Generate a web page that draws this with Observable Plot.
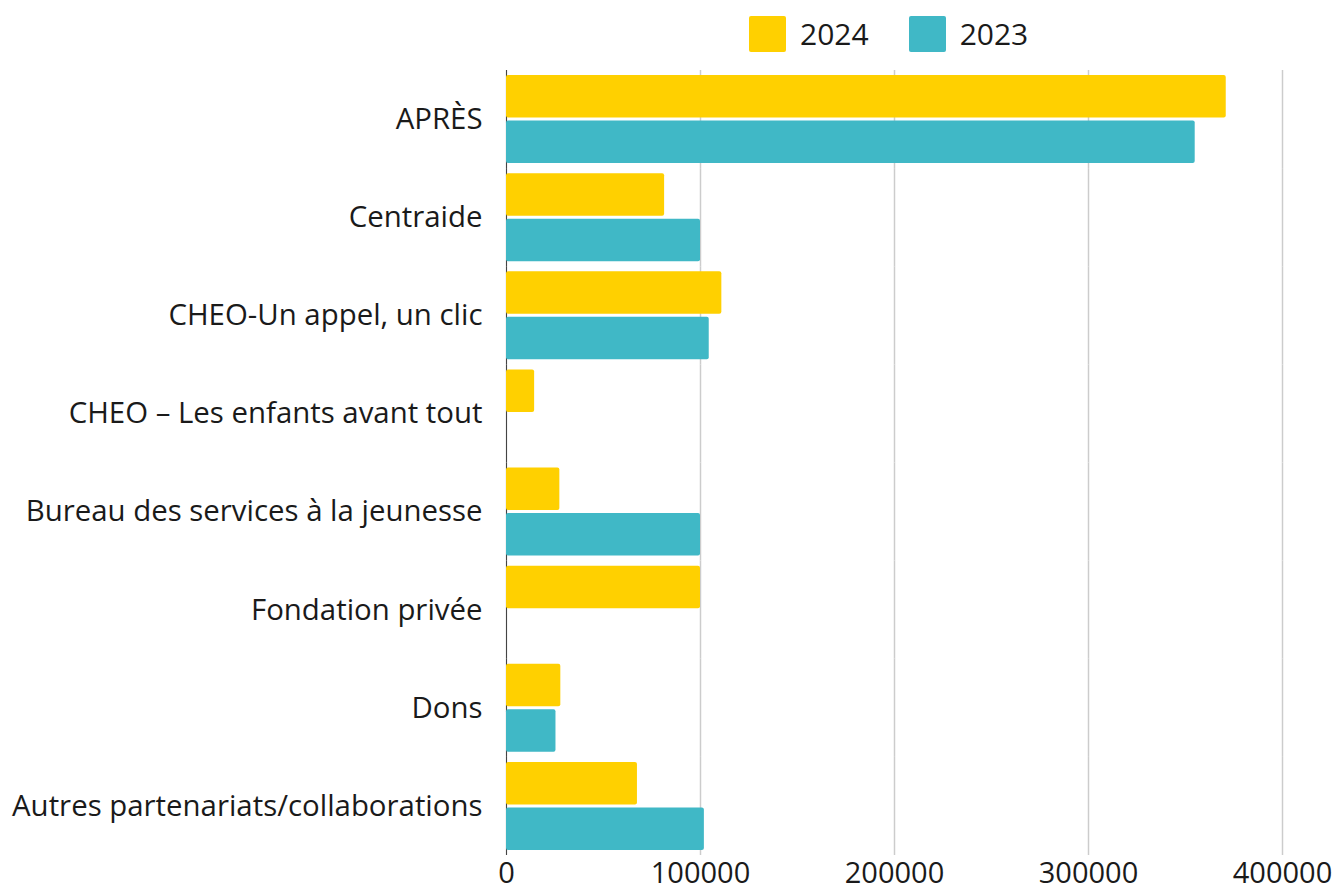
<!DOCTYPE html>
<html>
<head>
<meta charset="utf-8">
<script src="https://cdn.jsdelivr.net/npm/d3@7"></script>
<script src="https://cdn.jsdelivr.net/npm/@observablehq/plot@0.6"></script>
<style>
  html, body { margin: 0; padding: 0; background: #fff; }
  body { width: 1341px; height: 895px; position: relative; overflow: hidden; font-family: "Open Sans", sans-serif; color: #1a1a1a; }
  #legend { position: absolute; top: 13px; left: 749px; display: flex; align-items: center; font-size: 30px; z-index: 2; }
  .item { display: flex; align-items: center; margin-right: 40px; }
  .sw { width: 37px; height: 36px; border-radius: 2px; margin-right: 14px; }
  #chart { position: absolute; top: 0; left: 0; z-index: 1; }
</style>
</head>
<body>
<div id="legend"></div>
<div id="chart"></div>
<script>
const categories = [
  "APRÈS",
  "Centraide",
  "CHEO-Un appel, un clic",
  "CHEO – Les enfants avant tout",
  "Bureau des services à la jeunesse",
  "Fondation privée",
  "Dons",
  "Autres partenariats/collaborations"
];
const years = ["2024", "2023"];
const values2024 = [371000, 81500, 111000, 14500, 27500, 100000, 28000, 67500];
const values2023 = [355000, 100000, 104500, 0, 100000, 0, 25500, 102000];
const xTicks = [0, 100000, 200000, 300000, 400000];
const colors = ["#FFD000", "#40B8C6"];

const data = [];
categories.forEach((c, i) => {
  data.push({category: c, year: "2024", value: values2024[i]});
  data.push({category: c, year: "2023", value: values2023[i]});
});

const legend = document.getElementById("legend");
years.forEach((y, i) => {
  const it = document.createElement("div");
  it.className = "item";
  it.innerHTML = `<div class="sw" style="background:${colors[i]}"></div><span>${y}</span>`;
  legend.appendChild(it);
});

const chart = Plot.plot({
  width: 1341,
  height: 895,
  marginLeft: 506,
  marginRight: 59,
  marginTop: 70,
  marginBottom: 40,
  style: {fontFamily: "Open Sans, sans-serif", fontSize: "29px", color: "#1a1a1a", background: "transparent"},
  x: {domain: [0, 400000], axis: null},
  y: {domain: years, axis: null, paddingInner: 0.067, paddingOuter: 0.112, round: false},
  fy: {domain: categories, paddingInner: 0, paddingOuter: 0, round: false, axis: null},
  color: {domain: years, range: colors},
  marks: [
    Plot.gridX(xTicks, {stroke: "#cccccc", strokeOpacity: 1, strokeWidth: 1.5}),
    Plot.ruleX([0], {stroke: "#444", strokeWidth: 1}),
    Plot.barX(data, {fy: "category", y: "year", x: "value", fill: "year", rx: 2}),
    Plot.axisFy({anchor: "left", tickSize: 0, tickPadding: 24, fontSize: 29.4, label: null}),
    Plot.axisX(xTicks, {anchor: "bottom", tickSize: 0, tickPadding: 7, fontSize: 29, label: null, tickFormat: d => String(d)})
  ]
});
document.getElementById("chart").appendChild(chart);
</script>
</body>
</html>
